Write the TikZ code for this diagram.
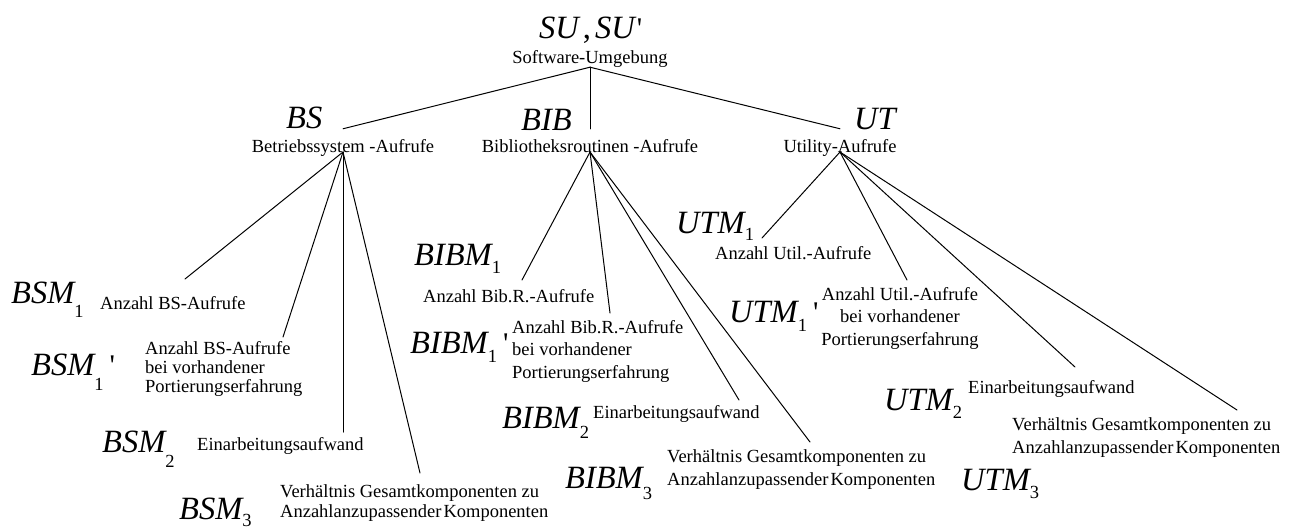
\documentclass[tikz,border=0pt]{standalone}
\usepackage{fontspec}
\setmainfont{Liberation Serif}
\newfontfamily\rawserif{Liberation Serif}[Ligatures=TeXOff]
\usetikzlibrary{calc}
\newcommand\Lbl[3]{{\fontsize{32.5}{32}\selectfont\itshape #1}\raisebox{-#3}{\fontsize{18.5}{18}\selectfont #2}}
\newcommand\Prm{{\rawserif\fontsize{30}{30}\selectfont\hspace{6pt}'}}
\tikzset{
  lbl/.style={anchor=base west, inner sep=0pt},
  txt/.style={anchor=base west, inner sep=0pt, font=\fontsize{18.5}{20}\selectfont},
  ctxt/.style={anchor=base, inner sep=0pt, font=\fontsize{18.5}{20}\selectfont},
  mid/.style={anchor=base, inner xsep=0pt, inner ysep=10pt, font=\fontsize{18.5}{20}\selectfont},
  conn/.style={line width=1pt, line cap=round}
}
\begin{document}
\begin{tikzpicture}[x=1pt,y=-1pt]
\useasboundingbox (0,0) rectangle (1297,528);
% top
\node[lbl] (su) at (539,38) {{\fontsize{32.5}{32}\selectfont\itshape SU\hspace{4pt}{\upshape,}\hspace{4pt}SU}{\rawserif\fontsize{30}{30}\selectfont\hspace{2pt}'}};
\node[ctxt] (sutext) at (590,63) {Software-Umgebung};
% level 1
\node[lbl] (bs) at (286,128) {{\fontsize{32.5}{32}\selectfont\itshape BS}};
\node[mid] (bstext) at (343,152) {Betriebssystem -Aufrufe};
\node[lbl] (bib) at (521,130) {{\fontsize{32.5}{32}\selectfont\itshape BIB}};
\node[mid] (bibtext) at (590,152) {Bibliotheksroutinen -Aufrufe};
\node[lbl] (ut) at (854,129) {{\fontsize{32.5}{32}\selectfont\itshape UT}};
\node[mid] (uttext) at (840,152) {Utility-Aufrufe};
% BS children
\node[lbl] (bsm1) at (11,303) {\Lbl{BSM}{1}{14pt}};
\node[txt] (bsm1text) at (100,309) {Anzahl BS-Aufrufe};
\node[lbl] (bsm1p) at (31,375) {\Lbl{BSM}{1}{15pt}\Prm};
\node[txt,font=\fontsize{18.5}{19}\selectfont] (bsm1ptext) at (145,354) {\begin{tabular}[t]{@{}l@{}}Anzahl BS-Aufrufe\\bei vorhandener\\Portierungserfahrung\end{tabular}};
\node[lbl] (bsm2) at (102,452) {\Lbl{BSM}{2}{15pt}};
\node[txt] (bsm2text) at (197,450) {Einarbeitungsaufwand};
\node[lbl] (bsm3) at (179,519) {\Lbl{BSM}{3}{7pt}};
\node[txt,font=\fontsize{18.5}{20}\selectfont] (bsm3text) at (280,497) {\begin{tabular}[t]{@{}l@{}}Verhältnis Gesamtkomponenten zu\\Anzahlanzupassender\hspace{2pt}Komponenten\end{tabular}};
% BIB children
\node[lbl] (bibm1) at (414,265) {\Lbl{BIBM}{1}{8pt}};
\node[txt] (bibm1text) at (423,302) {Anzahl Bib.R.-Aufrufe};
\node[lbl] (bibm1p) at (410,353) {\Lbl{BIBM}{1}{9pt}\Prm};
\node[txt,font=\fontsize{18.5}{22.5}\selectfont] (bibm1ptext) at (512,333) {\begin{tabular}[t]{@{}l@{}}Anzahl Bib.R.-Aufrufe\\bei vorhandener\\Portierungserfahrung\end{tabular}};
\node[lbl] (bibm2) at (502,428) {\Lbl{BIBM}{2}{10pt}};
\node[txt] (bibm2text) at (593,418) {Einarbeitungsaufwand};
\node[lbl] (bibm3) at (565,488) {\Lbl{BIBM}{3}{11pt}};
\node[txt,font=\fontsize{18.5}{23}\selectfont] (bibm3text) at (667,462) {\begin{tabular}[t]{@{}l@{}}Verhältnis Gesamtkomponenten zu\\Anzahlanzupassender\hspace{2pt}Komponenten\end{tabular}};
% UT children
\node[lbl] (utm1) at (676,233) {\Lbl{UTM}{1}{7pt}};
\node[txt] (utm1text) at (715,259) {Anzahl Util.-Aufrufe};
\node[lbl] (utm1p) at (729,322) {\Lbl{UTM}{1}{9pt}\Prm};
\node[ctxt,font=\fontsize{18.5}{22.5}\selectfont] (utm1ptext) at (900,300) {\begin{tabular}[t]{@{}c@{}}Anzahl Util.-Aufrufe\\bei vorhandener\\Portierungserfahrung\end{tabular}};
\node[lbl] (utm2) at (884,410) {\Lbl{UTM}{2}{8pt}};
\node[txt] (utm2text) at (968,393) {Einarbeitungsaufwand};
\node[lbl] (utm3) at (961,490) {\Lbl{UTM}{3}{8pt}};
\node[txt,font=\fontsize{18.5}{23}\selectfont] (utm3text) at (1012,430) {\begin{tabular}[t]{@{}l@{}}Verhältnis Gesamtkomponenten zu\\Anzahlanzupassender\hspace{2pt}Komponenten\end{tabular}};
% connector ends
\coordinate (bsm1end) at (185,279);
\coordinate (bsm1pend) at (283,337);
\coordinate (bsm2end) at (343,432);
\coordinate (bsm3end) at (420,473);
\coordinate (bibm1end) at (522,280);
\coordinate (bibm1pend) at (610,313);
\coordinate (bibm2end) at (739,400);
\coordinate (bibm3end) at (810,442);
\coordinate (utm1end) at (762,238);
\coordinate (utm1pend) at (907,280);
\coordinate (utm2end) at (1075,367);
\coordinate (utm3end) at (1237,410);
% connectors
\draw[conn] (sutext.south) -- (bstext.north);
\draw[conn] (sutext.south) -- (bibtext.north);
\draw[conn] (sutext.south) -- (uttext.north);
\foreach \e in {bsm1end,bsm1pend,bsm2end,bsm3end} \draw[conn] (bstext.base) -- (\e);
\foreach \e in {bibm1end,bibm1pend,bibm2end,bibm3end} \draw[conn] (bibtext.base) -- (\e);
\foreach \e in {utm1end,utm1pend,utm2end,utm3end} \draw[conn] (uttext.base) -- (\e);
\end{tikzpicture}
\end{document}
